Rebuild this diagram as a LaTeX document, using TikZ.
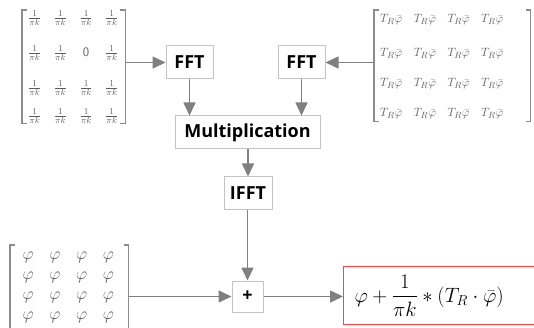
\documentclass[tikz,border=0pt]{standalone}
\usepackage{fontspec}
\usepackage{amsmath}
\newfontfamily\boxfont{Open Sans}
\usetikzlibrary{arrows.meta,matrix}
\definecolor{arrgray}{HTML}{808080}
\definecolor{boxgray}{HTML}{C4C4C4}
\definecolor{matgray}{HTML}{5E5E5E}
\definecolor{brkgray}{HTML}{8C8C8C}
\definecolor{redbox}{HTML}{F04848}
\newcommand\mbrk[5]{%
 \draw[brk] ([xshift=5pt-#2,yshift=#4]#1.north west) -- ([xshift=-#2,yshift=#4]#1.north west) -- ([xshift=-#2,yshift=-#5]#1.south west) -- ([xshift=5pt-#2,yshift=-#5]#1.south west);
 \draw[brk] ([xshift=#3-5pt,yshift=#4]#1.north east) -- ([xshift=#3,yshift=#4]#1.north east) -- ([xshift=#3,yshift=-#5]#1.south east) -- ([xshift=#3-5pt,yshift=-#5]#1.south east);
}
\begin{document}
\begin{tikzpicture}[x=1pt,y=-1pt,
 box/.style={draw=boxgray, line width=1pt, fill=white, font=\boxfont\bfseries\fontsize{18}{20}\selectfont, inner sep=0pt, minimum height=33pt, text=black},
 arr/.style={draw=arrgray, line width=1.6pt, -{Triangle[length=13pt,width=12pt]}},
 brk/.style={draw=brkgray, line width=1.2pt},
 mat/.style={matrix of math nodes, anchor=north west, inner sep=0pt},
]
\useasboundingbox (0,0) rectangle (534,328);

% matrices
\matrix (A) [mat, column sep=5.7pt, row sep=23pt,
  nodes={inner sep=0pt, minimum width=20pt, text height=8.5pt, text depth=3.5pt, anchor=center, text=matgray, font=\fontsize{13}{15}\selectfont}] at (24.5,13) {
\tfrac{1}{\pi k} & \tfrac{1}{\pi k} & \tfrac{1}{\pi k} & \tfrac{1}{\pi k}\\
\tfrac{1}{\pi k} & \tfrac{1}{\pi k} & \mathsf{0} & \tfrac{1}{\pi k}\\
\tfrac{1}{\pi k} & \tfrac{1}{\pi k} & \tfrac{1}{\pi k} & \tfrac{1}{\pi k}\\[-7pt]
\tfrac{1}{\pi k} & \tfrac{1}{\pi k} & \tfrac{1}{\pi k} & \tfrac{1}{\pi k}\\
};
\mbrk{A}{2.5pt}{3.4pt}{3pt}{0pt}

\matrix (B) [mat, column sep=7.7pt, row sep=17pt,
  nodes={inner sep=0pt, minimum width=26pt, text height=10pt, text depth=3pt, anchor=center, text=matgray, font=\fontsize{13}{15}\selectfont}] at (378,12.5) {
T_R\bar{\varphi} & T_R\bar{\varphi} & T_R\bar{\varphi} & T_R\bar{\varphi}\\[4pt]
T_R\bar{\varphi} & T_R\bar{\varphi} & T_R\bar{\varphi} & T_R\bar{\varphi}\\
T_R\bar{\varphi} & T_R\bar{\varphi} & T_R\bar{\varphi} & T_R\bar{\varphi}\\
T_R\bar{\varphi} & T_R\bar{\varphi} & T_R\bar{\varphi} & T_R\bar{\varphi}\\
};
\mbrk{B}{4pt}{25pt}{2.5pt}{1.5pt}

\matrix (C) [mat, column sep=12.7pt, row sep=8pt,
  nodes={inner sep=0pt, minimum width=14pt, text height=7.5pt, text depth=4.5pt, anchor=center, text=matgray, font=\fontsize{16}{18}\selectfont}] at (21,252) {
\varphi & \varphi & \varphi & \varphi\\
\varphi & \varphi & \varphi & \varphi\\
\varphi & \varphi & \varphi & \varphi\\
\varphi & \varphi & \varphi & \varphi\\
};
\mbrk{C}{11pt}{13pt}{7pt}{11pt}

\coordinate (Ae) at ([xshift=3.4pt]A.east);
\coordinate (Bw) at ([xshift=-4pt]B.west);
\coordinate (Ce) at ([xshift=13pt]C.east);

% boxes
\node[box, minimum width=47pt] (fft1) at (189.5,62.5) {FFT};
\node[box, minimum width=47pt] (fft2) at (301.5,62.5) {FFT};
\node[box, minimum width=145pt] (mult) at (247.5,132.5) {Multiplication};
\node[box, minimum width=48pt] (ifft) at (248,193.5) {IFFT};
\node[box, minimum width=31pt, minimum height=31pt] (plus) at (247.5,296.5) {+};
\node[draw=redbox, line width=1pt, anchor=west, minimum height=58pt, inner xsep=11pt, inner ysep=0pt,
  font=\fontsize{21.5}{25}\selectfont] (res) at (343,295.5)
  {\makebox[190pt][l]{$\displaystyle\varphi+\frac{1}{\pi k}*(T_R\cdot\bar{\varphi})$}};

% connectors
\draw[arr] (Ae |- fft1.west) -- (fft1.west);
\draw[arr] (Bw |- fft2.east) -- (fft2.east);
\draw[arr] (fft1.south) -- (fft1.south |- mult.north);
\draw[arr] (fft2.south) -- (fft2.south |- mult.north);
\draw[arr] (mult.south -| ifft.north) -- (ifft.north);
\draw[arr] (ifft.south -| plus.north) -- (plus.north);
\draw[arr] (Ce |- plus.west) -- (plus.west);
\draw[arr] (plus.east) -- (plus.east -| res.west);
\end{tikzpicture}
\end{document}
